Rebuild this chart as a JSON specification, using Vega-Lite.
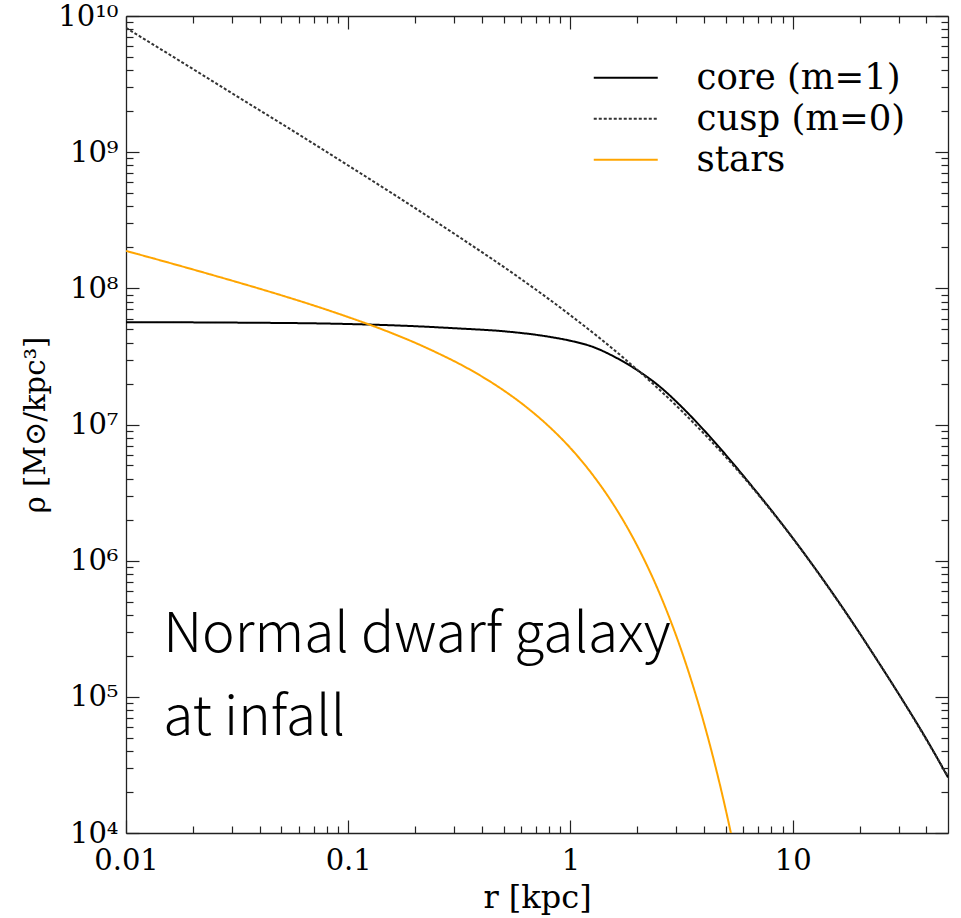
{
  "$schema": "https://vega.github.io/schema/vega-lite/v6.json",
  "width": 822,
  "height": 817,
  "autosize": {"type": "none"},
  "padding": {"left": 126, "top": 16, "right": 13, "bottom": 85},
  "background": "white",
  "config": {"view": {"stroke": null}, "font": "DejaVu Serif"},
  "layer": [
    {
      "data": {
        "values": [
          {"series": "core (m=1)", "r": 0.01, "rho": 5.64e7},
          {"series": "core (m=1)", "r": 0.0316, "rho": 5.60e7},
          {"series": "core (m=1)", "r": 0.1, "rho": 5.47e7},
          {"series": "core (m=1)", "r": 0.2, "rho": 5.27e7},
          {"series": "core (m=1)", "r": 0.316, "rho": 5.07e7},
          {"series": "core (m=1)", "r": 0.5, "rho": 4.84e7},
          {"series": "core (m=1)", "r": 0.794, "rho": 4.42e7},
          {"series": "core (m=1)", "r": 1.0, "rho": 4.12e7},
          {"series": "core (m=1)", "r": 1.259, "rho": 3.72e7},
          {"series": "core (m=1)", "r": 1.585, "rho": 3.13e7},
          {"series": "core (m=1)", "r": 1.995, "rho": 2.51e7},
          {"series": "core (m=1)", "r": 2.512, "rho": 1.91e7},
          {"series": "core (m=1)", "r": 3.162, "rho": 1.35e7},
          {"series": "core (m=1)", "r": 3.981, "rho": 9.12e6},
          {"series": "core (m=1)", "r": 5.012, "rho": 5.96e6},
          {"series": "core (m=1)", "r": 6.31, "rho": 3.80e6},
          {"series": "core (m=1)", "r": 7.943, "rho": 2.39e6},
          {"series": "core (m=1)", "r": 10, "rho": 1.47e6},
          {"series": "core (m=1)", "r": 13.34, "rho": 7.73e5},
          {"series": "core (m=1)", "r": 17.78, "rho": 3.93e5},
          {"series": "core (m=1)", "r": 23.71, "rho": 1.916e5},
          {"series": "core (m=1)", "r": 31.62, "rho": 9.16e4},
          {"series": "core (m=1)", "r": 39.81, "rho": 4.95e4},
          {"series": "core (m=1)", "r": 50, "rho": 2.56e4},
          {"series": "cusp (m=0)", "r": 0.01, "rho": 8.18e9},
          {"series": "cusp (m=0)", "r": 0.0178, "rho": 4.59e9},
          {"series": "cusp (m=0)", "r": 0.0316, "rho": 2.57e9},
          {"series": "cusp (m=0)", "r": 0.0562, "rho": 1.44e9},
          {"series": "cusp (m=0)", "r": 0.1, "rho": 7.98e8},
          {"series": "cusp (m=0)", "r": 0.178, "rho": 4.39e8},
          {"series": "cusp (m=0)", "r": 0.316, "rho": 2.38e8},
          {"series": "cusp (m=0)", "r": 0.562, "rho": 1.26e8},
          {"series": "cusp (m=0)", "r": 1.0, "rho": 6.34e7},
          {"series": "cusp (m=0)", "r": 1.778, "rho": 2.98e7},
          {"series": "cusp (m=0)", "r": 3.162, "rho": 1.26e7},
          {"series": "cusp (m=0)", "r": 5.623, "rho": 4.65e6},
          {"series": "cusp (m=0)", "r": 10, "rho": 1.46e6},
          {"series": "cusp (m=0)", "r": 17.78, "rho": 3.90e5},
          {"series": "cusp (m=0)", "r": 31.62, "rho": 9.12e4},
          {"series": "cusp (m=0)", "r": 50, "rho": 2.6e4},
          {"series": "stars", "r": 0.01, "rho": 1.884e8},
          {"series": "stars", "r": 0.01259, "rho": 1.699e8},
          {"series": "stars", "r": 0.01585, "rho": 1.531e8},
          {"series": "stars", "r": 0.01995, "rho": 1.378e8},
          {"series": "stars", "r": 0.02512, "rho": 1.238e8},
          {"series": "stars", "r": 0.03162, "rho": 1.111e8},
          {"series": "stars", "r": 0.03981, "rho": 9.95e7},
          {"series": "stars", "r": 0.05012, "rho": 8.88e7},
          {"series": "stars", "r": 0.0631, "rho": 7.90e7},
          {"series": "stars", "r": 0.07943, "rho": 6.99e7},
          {"series": "stars", "r": 0.1, "rho": 6.15e7},
          {"series": "stars", "r": 0.1259, "rho": 5.38e7},
          {"series": "stars", "r": 0.1585, "rho": 4.66e7},
          {"series": "stars", "r": 0.1995, "rho": 3.99e7},
          {"series": "stars", "r": 0.2512, "rho": 3.36e7},
          {"series": "stars", "r": 0.3162, "rho": 2.79e7},
          {"series": "stars", "r": 0.3981, "rho": 2.26e7},
          {"series": "stars", "r": 0.5012, "rho": 1.777e7},
          {"series": "stars", "r": 0.631, "rho": 1.349e7},
          {"series": "stars", "r": 0.7943, "rho": 9.79e6},
          {"series": "stars", "r": 1.0, "rho": 6.71e6},
          {"series": "stars", "r": 1.259, "rho": 4.27e6},
          {"series": "stars", "r": 1.585, "rho": 2.486e6},
          {"series": "stars", "r": 1.995, "rho": 1.291e6},
          {"series": "stars", "r": 2.512, "rho": 5.80e5},
          {"series": "stars", "r": 3.162, "rho": 2.175e5},
          {"series": "stars", "r": 3.548, "rho": 1.227e5},
          {"series": "stars", "r": 3.981, "rho": 6.49e4},
          {"series": "stars", "r": 4.467, "rho": 3.196e4},
          {"series": "stars", "r": 5.012, "rho": 1.453e4},
          {"series": "stars", "r": 5.248, "rho": 1.034e4},
          {"series": "stars", "r": 5.309, "rho": 9.47e3}
        ]
      },
      "mark": {"type": "line", "clip": true, "interpolate": "monotone", "strokeWidth": 2},
      "encoding": {
        "x": {
          "field": "r", "type": "quantitative",
          "scale": {"type": "log", "domain": [0.01, 50], "nice": false},
          "axis": {
            "orient": "bottom",
            "values": [0.01,0.02,0.03,0.04,0.05,0.06,0.07,0.08,0.09,0.1,0.2,0.3,0.4,0.5,0.6,0.7,0.8,0.9,1,2,3,4,5,6,7,8,9,10,20,30,40],
            "labelExpr": "datum.value==0.01?'0.01':datum.value==0.1?'0.1':datum.value==1?'1':datum.value==10?'10':''",
            "tickSize": {"condition": {"test": "abs(log(datum.value)/LN10 - round(log(datum.value)/LN10)) < 1e-6", "value": -13}, "value": -7},
            "labelPadding": 26,
            "labelFont": "DejaVu Serif", "labelFontSize": 29, "labelColor": "black",
            "labelFlush": false, "labelOverlap": false,
            "domainColor": "#222222", "domainWidth": 1.3, "tickColor": "#222222", "tickWidth": 1.2,
            "grid": false,
            "title": "r [kpc]", "titleFont": "DejaVu Serif", "titleFontSize": 32, "titleFontWeight": "normal", "titleColor": "black", "titlePadding": 1
          }
        },
        "y": {
          "field": "rho", "type": "quantitative",
          "scale": {"type": "log", "domain": [1e4, 1e10], "nice": false},
          "axis": {
            "orient": "left",
            "values": [1e4,2e4,3e4,4e4,5e4,6e4,7e4,8e4,9e4,1e5,2e5,3e5,4e5,5e5,6e5,7e5,8e5,9e5,1e6,2e6,3e6,4e6,5e6,6e6,7e6,8e6,9e6,1e7,2e7,3e7,4e7,5e7,6e7,7e7,8e7,9e7,1e8,2e8,3e8,4e8,5e8,6e8,7e8,8e8,9e8,1e9,2e9,3e9,4e9,5e9,6e9,7e9,8e9,9e9,1e10],
            "labelExpr": "datum.value==1e4?'10⁴':datum.value==1e5?'10⁵':datum.value==1e6?'10⁶':datum.value==1e7?'10⁷':datum.value==1e8?'10⁸':datum.value==1e9?'10⁹':datum.value==1e10?'10¹⁰':''",
            "tickSize": {"condition": {"test": "abs(log(datum.value)/LN10 - round(log(datum.value)/LN10)) < 1e-6", "value": -13}, "value": -7},
            "labelPadding": 21,
            "labelFont": "DejaVu Serif", "labelFontSize": 29, "labelColor": "black",
            "labelFlush": false, "labelOverlap": false,
            "domainColor": "#222222", "domainWidth": 1.3, "tickColor": "#222222", "tickWidth": 1.2,
            "grid": false,
            "title": "ρ [M⊙/kpc³]", "titleFont": "DejaVu Serif", "titleFontSize": 29, "titleFontWeight": "normal", "titleColor": "black", "titlePadding": 7
          }
        },
        "color": {
          "field": "series", "type": "nominal",
          "scale": {"domain": ["core (m=1)", "cusp (m=0)", "stars"], "range": ["#000000", "#333333", "#FFA500"]},
          "legend": {"title": null, "orient": "none", "legendX": 482, "legendY": 44, "symbolType": "M-3,0H3", "symbolSize": 455, "symbolStrokeWidth": 2, "labelFont": "DejaVu Serif", "labelFontSize": 35.5, "labelColor": "black", "labelOffset": 53, "rowPadding": 4, "padding": 0, "labelLimit": 400}
        },
        "strokeDash": {
          "field": "series", "type": "nominal",
          "scale": {"domain": ["core (m=1)", "cusp (m=0)", "stars"], "range": [[1, 0], [3, 2], [1, 0]]},
          "legend": {"title": null, "orient": "none", "legendX": 482, "legendY": 44, "symbolType": "M-3,0H3", "symbolSize": 455, "symbolStrokeWidth": 2, "labelFont": "DejaVu Serif", "labelFontSize": 35.5, "labelColor": "black", "labelOffset": 53, "rowPadding": 4, "padding": 0, "labelLimit": 400}
        }
      }
    },
    {
      "data": {
        "values": [
          {"label": "Normal dwarf galaxy", "r": 0.0147, "rho": 2.14e5},
          {"label": "at infall", "r": 0.0147, "rho": 5.26e4}
        ]
      },
      "mark": {"type": "text", "font": "Noto Sans CJK JP", "fontWeight": 300, "fontSize": 55, "align": "left", "baseline": "alphabetic", "color": "black"},
      "encoding": {
        "x": {
          "field": "r", "type": "quantitative",
          "axis": {
            "orient": "top",
            "values": [0.01,0.02,0.03,0.04,0.05,0.06,0.07,0.08,0.09,0.1,0.2,0.3,0.4,0.5,0.6,0.7,0.8,0.9,1,2,3,4,5,6,7,8,9,10,20,30,40],
            "labels": false,
            "tickSize": {"condition": {"test": "abs(log(datum.value)/LN10 - round(log(datum.value)/LN10)) < 1e-6", "value": -13}, "value": -7},
            "domainColor": "#222222", "domainWidth": 1.3, "tickColor": "#222222", "tickWidth": 1.2,
            "grid": false, "title": null
          }
        },
        "y": {
          "field": "rho", "type": "quantitative",
          "axis": {
            "orient": "right",
            "values": [1e4,2e4,3e4,4e4,5e4,6e4,7e4,8e4,9e4,1e5,2e5,3e5,4e5,5e5,6e5,7e5,8e5,9e5,1e6,2e6,3e6,4e6,5e6,6e6,7e6,8e6,9e6,1e7,2e7,3e7,4e7,5e7,6e7,7e7,8e7,9e7,1e8,2e8,3e8,4e8,5e8,6e8,7e8,8e8,9e8,1e9,2e9,3e9,4e9,5e9,6e9,7e9,8e9,9e9,1e10],
            "labels": false,
            "tickSize": {"condition": {"test": "abs(log(datum.value)/LN10 - round(log(datum.value)/LN10)) < 1e-6", "value": -13}, "value": -7},
            "domainColor": "#222222", "domainWidth": 1.3, "tickColor": "#222222", "tickWidth": 1.2,
            "grid": false, "title": null
          }
        },
        "text": {"field": "label", "type": "nominal"}
      }
    }
  ],
  "resolve": {"axis": {"x": "independent", "y": "independent"}}
}
